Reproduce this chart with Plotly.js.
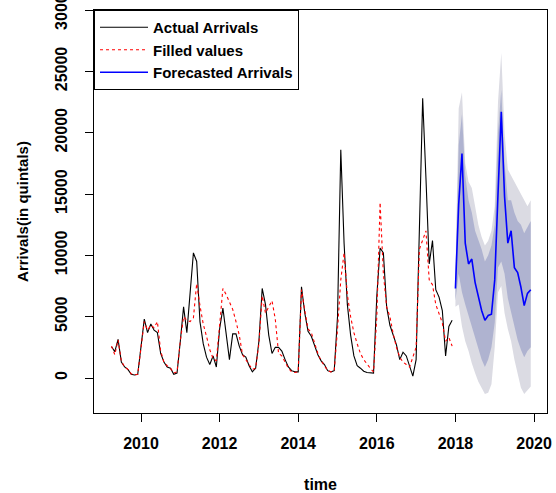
<!DOCTYPE html>
<html>
<head>
<meta charset="utf-8">
<script src="https://cdn.plot.ly/plotly-3.0.1.min.js"></script>
<style>html,body{margin:0;padding:0;background:#fff;}#chart{width:556px;height:493px;}</style>
</head>
<body>
<div id="chart"></div>
<script>
// Monthly series, actual data Apr 2009 - Dec 2017, forecast Jan 2018 - Dec 2019
var actualStartYear = 2009, actualStartMonth = 4;   // April 2009
var forecastStartYear = 2018, forecastStartMonth = 1;

var actualArrivals = [
  2550, 2150, 3150, 1300, 900, 700, 300, 250, 300,
  2500, 4800, 3700, 4400, 3900, 3700, 2000, 1300, 900, 800, 300, 400,
  3000, 5800, 3700, 6900, 10200, 9500, 4600, 2800, 1700, 1100, 1800, 900,
  4000, 5700, 3600, 1500, 3600, 3600, 2600, 1900, 1700, 1000, 500, 800,
  3000, 7300, 6000, 3500, 2000, 2500, 2500, 2200, 1500, 900, 600, 500,
  500, 7440, 5300, 3800, 3400, 2600, 1900, 1400, 1100, 600, 500, 600,
  5000, 18600, 11000, 6000, 3500, 1800, 1000, 800, 550, 450, 400, 400,
  6700, 10600, 10200, 5800, 4300, 3500, 2700, 1500, 2100, 1800, 1000, 150,
  1500, 13000, 22800, 16300, 9300, 11200, 7200, 6600, 5500, 1800, 4200, 4700
];

var filledValues = [
  2600, 1900, 3100, 1400, 900, 700, 350, 250, 300,
  2300, 4600, 3900, 4300, 4100, 4600, 2200, 1300, 1000, 800, 400, 500,
  3000, 5000, 4700, 4600, 4900, 7700, 5900, 4400, 3400, 2300, 1600, 1400,
  4300, 7300, 6800, 6200, 5600, 4600, 3500, 1900, 1500, 1100, 700, 800,
  2800, 6700, 5300, 5800, 6300, 4800, 2000, 1800, 1300, 800, 500, 450,
  500, 7200, 5500, 4000, 3700, 2800, 2000, 1400, 1000, 600, 500, 600,
  4000, 8000, 10200, 6800, 5000, 3700, 2800, 2000, 1500, 1100, 800, 500,
  5000, 14300, 8500, 5800, 5000, 3600, 2500, 1700, 1300, 1100, 900, 1700,
  2500, 10500, 11300, 12000, 8000, 7600, 6000, 5200, 4500, 3000, 3300, 2600
];

var forecastMean = [7300, 14200, 18300, 11000, 9300, 9700, 7800, 6700, 5500, 4700, 5100, 5200,
                    8000, 15000, 21700, 14800, 11000, 12000, 9000, 8600, 7400, 5900, 6900, 7200];
var upper80 = [8300, 19000, 21500, 16500, 14500, 13500, 12000, 11200, 10500, 9500, 10000, 10800,
               12500, 20000, 23500, 17500, 14500, 14500, 13500, 12800, 12500, 11800, 12300, 12800];
var lower80 = [6300, 8500, 7000, 6000, 5000, 4000, 3300, 2400, 1500, 900, 1500, 2500,
               4500, 9000, 9500, 8500, 6500, 5300, 4200, 3100, 2300, 1700, 2200, 2500];
var upper95 = [8800, 22000, 23300, 17500, 16000, 15500, 14000, 12500, 11500, 10800, 11200, 12000,
               14000, 22500, 26500, 20000, 17000, 16500, 16000, 15500, 15000, 14500, 14000, 14500];
var lower95 = [5800, 6000, 4200, 3000, 2200, 1200, 400, -300, -800, -1300, -1200, -500,
               2500, 7000, 7500, 5300, 4000, 3000, 1500, 400, -800, -1300, -1000, -700];

var xTickVals = [2010, 2012, 2014, 2016, 2018, 2020];
var xTickText = ['2010', '2012', '2014', '2016', '2018', '2020'];
var yTickVals = [0, 5000, 10000, 15000, 20000, 25000, 30000];
var yTickText = ['0', '5000', '10000', '15000', '20000', '25000', '30000'];

var legendNames = ['Actual Arrivals', 'Filled values', 'Forecasted Arrivals'];

function timeAxis(startYear, startMonth, n) {
  var t = [];
  for (var i = 0; i < n; i++) t.push(startYear + (startMonth - 1 + i) / 12);
  return t;
}
var tActual = timeAxis(actualStartYear, actualStartMonth, actualArrivals.length);
var tFc = timeAxis(forecastStartYear, forecastStartMonth, forecastMean.length);

function band(up, lo) {
  var xs = tFc.concat(tFc.slice().reverse());
  var ys = up.concat(lo.slice().reverse());
  return {x: xs, y: ys};
}
var b95 = band(upper95, lower95);
var b80 = band(upper80, lower80);

var FONT = 'Liberation Sans, Arial, sans-serif';

var traces = [
  {x: b95.x, y: b95.y, type: 'scatter', mode: 'lines', fill: 'toself',
   fillcolor: '#DBDBE3', line: {width: 0, color: '#DBDBE3'}, showlegend: false, hoverinfo: 'skip'},
  {x: b80.x, y: b80.y, type: 'scatter', mode: 'lines', fill: 'toself',
   fillcolor: '#AFB3D0', line: {width: 0, color: '#AFB3D0'}, showlegend: false, hoverinfo: 'skip'},
  {x: tActual, y: actualArrivals, type: 'scatter', mode: 'lines', name: legendNames[0],
   line: {color: '#000000', width: 1.1}},
  {x: tActual, y: filledValues, type: 'scatter', mode: 'lines', name: legendNames[1],
   line: {color: '#FF0000', width: 1.1, dash: '3px,3px'}},
  {x: tFc, y: forecastMean, type: 'scatter', mode: 'lines', name: legendNames[2],
   line: {color: '#0000FF', width: 1.6}}
];

var layout = {
  width: 556, height: 493,
  margin: {l: 94, r: 9, t: 10, b: 80, pad: 0},
  paper_bgcolor: '#ffffff', plot_bgcolor: '#ffffff',
  font: {family: FONT, color: '#000000', size: 16, weight: 'bold'},
  showlegend: true,
  legend: {x: 0, y: 1, xanchor: 'left', yanchor: 'top', bgcolor: '#ffffff',
           bordercolor: '#000000', borderwidth: 1, itemwidth: 48,
           font: {family: FONT, size: 15, color: '#000', weight: 'bold'}},
  xaxis: {
    range: [2008.804, 2020.33], tickvals: xTickVals, ticktext: xTickText,
    showgrid: false, zeroline: false, showline: true, mirror: true, linecolor: '#000', linewidth: 1,
    ticks: 'outside', ticklen: 8, tickwidth: 1, tickcolor: '#000', ticklabelstandoff: 8,
    tickfont: {family: FONT, size: 16, color: '#000', weight: 'bold'},
    title: {text: 'time', font: {family: FONT, size: 16, color: '#000', weight: 'bold'}, standoff: 29}
  },
  yaxis: {
    range: [-2853, 30005], tickvals: yTickVals, ticktext: yTickText, tickangle: -90,
    ticklabeloverflow: 'allow',
    showgrid: false, zeroline: false, showline: true, mirror: true, linecolor: '#000', linewidth: 1,
    ticks: 'outside', ticklen: 8, tickwidth: 1, tickcolor: '#000', ticklabelstandoff: 12,
    tickfont: {family: FONT, size: 16, color: '#000', weight: 'bold'},
    title: {text: 'Arrivals(in quintals)', font: {family: FONT, size: 15, color: '#000', weight: 'bold'}, standoff: 20}
  }
};

Plotly.newPlot('chart', traces, layout, {staticPlot: true, displayModeBar: false});
</script>
</body>
</html>
